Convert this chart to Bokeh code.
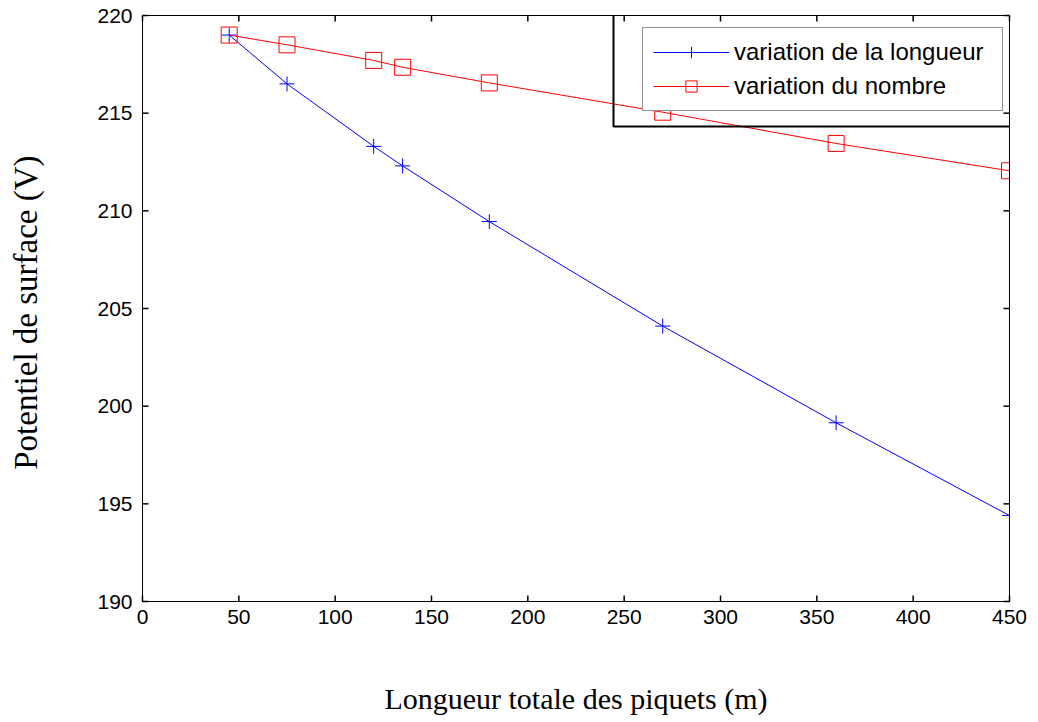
from bokeh.plotting import figure
from bokeh.models import (LinearAxis, Range1d, FixedTicker, Legend, LegendItem,
                          ColumnDataSource, BoxAnnotation)
from bokeh.embed import file_html
from bokeh.resources import INLINE

# Data
lengths = [45, 75, 120, 135, 180, 270, 360, 450]
v_longueur = [219.0, 216.5, 213.3, 212.3, 209.45, 204.1, 199.15, 194.4]
v_nombre = [219.0, 218.5, 217.7, 217.35, 216.55, 215.05, 213.45, 212.05]
x_ticks = [0, 50, 100, 150, 200, 250, 300, 350, 400, 450]
y_ticks = [190, 195, 200, 205, 210, 215, 220]
x_label = "Longueur totale des piquets (m)"
y_label = "Potentiel de surface  (V)"
legend_labels = ["variation de la longueur", "variation du nombre"]

W, H = 1038, 722
FL, FR, FT, FB = 142, 1009, 15, 601   # frame edges in pixels
x_range = Range1d(0, 450)
y_range = Range1d(190, 220)
p = figure(width=W, height=H, output_backend="svg", toolbar_location=None,
           x_range=x_range, y_range=y_range,
           min_border_left=FL, min_border_right=W - FR,
           min_border_top=FT, min_border_bottom=H - FB,
           x_axis_location=None, y_axis_location=None)
p.grid.visible = False
p.outline_line_color = "black"
p.outline_line_width = 1
p.background_fill_color = "white"
p.border_fill_color = "white"

def style_axis(ax, show_labels):
    ax.axis_line_color = "black"
    ax.axis_line_width = 1
    ax.major_tick_in = 0
    ax.major_tick_out = 0
    ax.minor_tick_line_color = None
    ax.major_tick_line_color = None
    ax.major_label_text_font = "Liberation Sans"
    ax.major_label_text_font_size = "21px"
    ax.major_label_text_color = "black"
    ax.axis_label_text_color = "black"
    if not show_labels:
        ax.major_label_text_font_size = "0px"
        ax.major_label_text_color = None

xb = LinearAxis(ticker=FixedTicker(ticks=x_ticks))
style_axis(xb, True)
xb.major_label_standoff = 8
xb.axis_label = x_label
xb.axis_label_text_font = "Liberation Serif"
xb.axis_label_text_font_style = "normal"
xb.axis_label_text_font_size = "30px"
xb.axis_label_standoff = 55
p.add_layout(xb, "below")

yl = LinearAxis(ticker=FixedTicker(ticks=y_ticks))
style_axis(yl, True)
yl.major_label_standoff = 10
yl.axis_label = y_label
yl.axis_label_text_font = "Liberation Serif"
yl.axis_label_text_font_style = "normal"
yl.axis_label_text_font_size = "33px"
yl.axis_label_standoff = 50
p.add_layout(yl, "left")

xt = LinearAxis(ticker=FixedTicker(ticks=x_ticks))
style_axis(xt, False)
p.add_layout(xt, "above")

yr = LinearAxis(ticker=FixedTicker(ticks=y_ticks))
style_axis(yr, False)
p.add_layout(yr, "right")

# inward tick marks, converted to data units from the frame size
tick_px = 6
dx = tick_px * (x_range.end - x_range.start) / (FR - FL)
dy = tick_px * (y_range.end - y_range.start) / (FB - FT)
nx, ny = len(x_ticks), len(y_ticks)
tick_src = dict(
    x0=x_ticks + x_ticks + [x_range.start] * ny + [x_range.end] * ny,
    x1=x_ticks + x_ticks + [x_range.start + dx] * ny + [x_range.end - dx] * ny,
    y0=[y_range.start] * nx + [y_range.end] * nx + y_ticks + y_ticks,
    y1=[y_range.start + dy] * nx + [y_range.end - dy] * nx + y_ticks + y_ticks,
)
p.segment(x0="x0", y0="y0", x1="x1", y1="y1", source=ColumnDataSource(tick_src),
          line_color="black", line_width=1.5, level="overlay")

src = ColumnDataSource(dict(x=lengths, a=v_longueur, b=v_nombre))
l1 = p.line("x", "a", source=src, line_color="#0000ff", line_width=1)
m1 = p.scatter("x", "a", source=src, marker="cross", size=15,
               line_color="#0000ff", line_width=1)
l2 = p.line("x", "b", source=src, line_color="#ff0000", line_width=1)
m2 = p.scatter("x", "b", source=src, marker="square", size=16,
               line_color="#ff0000", fill_color=None, line_width=1)

# outer MATLAB-style legend frame
outer = BoxAnnotation(left=613, right=1012, top=14, bottom=126,
                      left_units="canvas", right_units="canvas",
                      top_units="canvas", bottom_units="canvas",
                      fill_alpha=0.0, line_color="black", line_alpha=1.0,
                      line_width=2, level="overlay")
p.add_layout(outer)

legend = Legend(items=[LegendItem(label=legend_labels[0], renderers=[l1, m1]),
                       LegendItem(label=legend_labels[1], renderers=[l2, m2])],
                location=(500, 490))
legend.label_text_font = "Liberation Sans"
legend.label_text_font_size = "24px"
legend.label_text_color = "black"
legend.border_line_color = "#222222"
legend.border_line_width = 1.5
legend.background_fill_color = "white"
legend.background_fill_alpha = 1.0
legend.glyph_width = 76
legend.glyph_height = 28
legend.label_height = 28
legend.label_width = 258
legend.label_standoff = 5
legend.padding = 10
legend.spacing = 6
legend.margin = 0
p.add_layout(legend, "center")

open("out.html", "w").write(file_html(p, INLINE))
